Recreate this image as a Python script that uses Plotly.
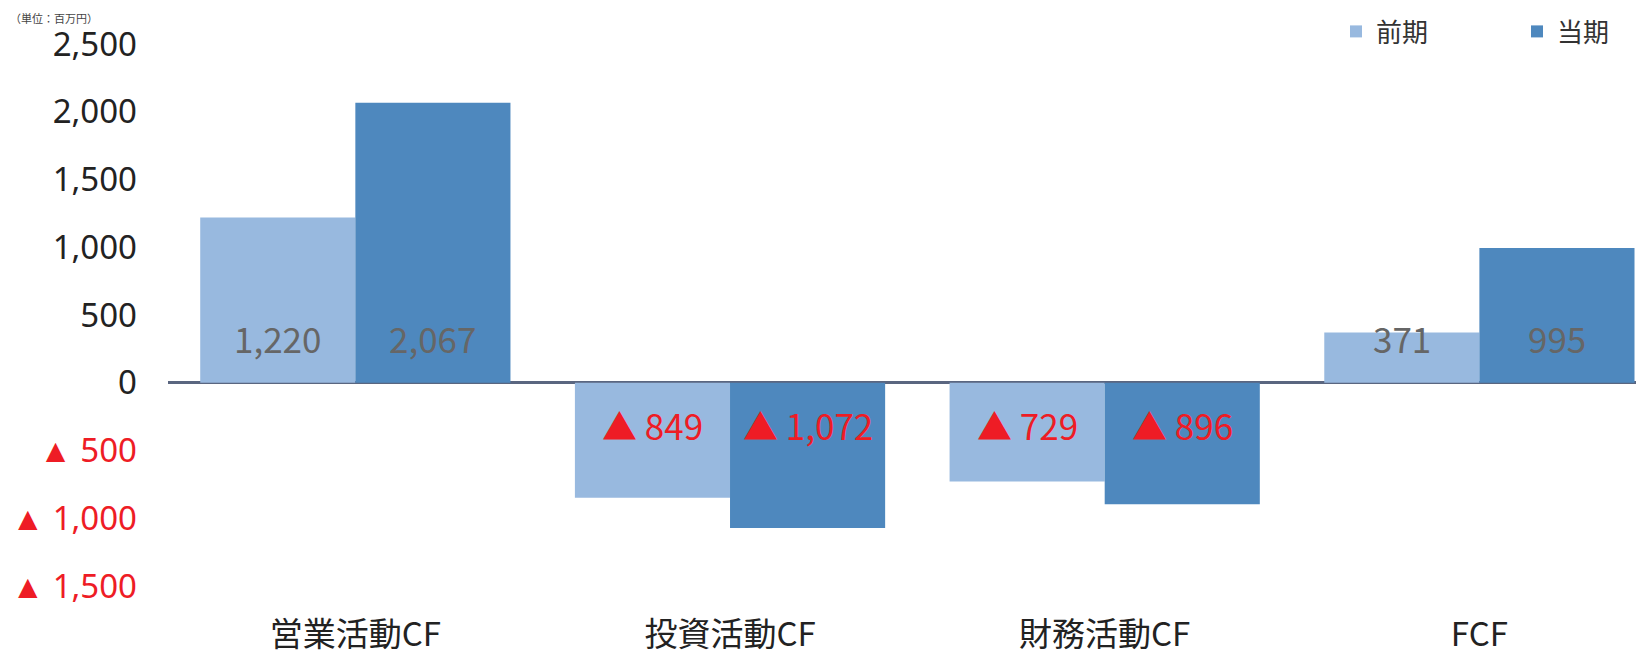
import plotly.graph_objects as go

categories = ["営業活動CF", "投資活動CF", "財務活動CF", "FCF"]
prev_values = [1220, -849, -729, 371]
curr_values = [2067, -1072, -896, 995]
series_names = ["前期", "当期"]
y_tickvals = [-1500, -1000, -500, 0, 500, 1000, 1500, 2000, 2500]
unit_label = "（単位：百万円）"

LIGHT = "#98b9df"
DARK = "#4e88be"
RED = "#ee1c25"
GRAY = "#666666"
BARGAP = 0.172

# page has an 8px body margin, so the figure is drawn 8px smaller
W, H = 1642, 649
ML, MR, MT, MB = 160, 14, 36, 71
PW, PH = W - ML - MR, H - MT - MB

def px_to_paper(xp, yp):
    return (xp - ML) / PW, (H - MB - yp) / PH

def fmt(v):
    if v < 0:
        return "▲ " + f"{-v:,}"
    return f"{v:,}"

def tick_text(v):
    if v < 0:
        return f'<span style="color:{RED}">▲ {-v:,}</span>'
    return f"{v:,}"

fig = go.Figure()
fig.add_trace(go.Bar(x=categories, y=prev_values, name=series_names[0],
                     marker=dict(color=LIGHT, line=dict(width=0))))
fig.add_trace(go.Bar(x=categories, y=curr_values, name=series_names[1],
                     marker=dict(color=DARK, line=dict(width=0))))

half = (1 - BARGAP) / 4
annotations = []
for i, (a, b) in enumerate(zip(prev_values, curr_values)):
    for v, dx in ((a, -half), (b, half)):
        annotations.append(dict(
            x=i + dx, y=0, xref="x", yref="y", text=fmt(v), showarrow=False,
            yshift=45 if v >= 0 else -42, xanchor="center", yanchor="middle",
            font=dict(family="Noto Sans CJK JP", size=35,
                      color=GRAY if v >= 0 else RED)))
ux, uy = px_to_paper(0, 0)
annotations.append(dict(
    x=ux, y=uy, xref="paper", yref="paper", text=unit_label,
    showarrow=False, xanchor="left", yanchor="top",
    font=dict(family="Noto Sans CJK JP", size=11, color="#444444")))

fig.update_layout(
    width=W, height=H,
    margin=dict(l=ML, r=MR, t=MT, b=MB, autoexpand=False),
    paper_bgcolor="white", plot_bgcolor="white",
    barmode="group", bargap=BARGAP, bargroupgap=0,
    showlegend=True,
    legend=dict(orientation="h", x=1328 / W, xref="container", xanchor="left",
                y=1, yref="container", yanchor="top",
                entrywidth=136, font=dict(family="Noto Sans CJK JP", size=26, color="#333333"),
                itemclick=False, traceorder="normal"),
    xaxis=dict(range=[-0.5, 3.418], showline=False, showgrid=False, ticks="",
               tickfont=dict(family="Noto Sans CJK JP", size=33, color="#222222"),
               ticklabelstandoff=26),
    yaxis=dict(range=[-1500, 2500], tickvals=y_tickvals,
               ticktext=[tick_text(v) for v in y_tickvals],
               showgrid=False, showline=False, ticks="",
               zeroline=True, zerolinecolor="#5a6680", zerolinewidth=2.5,
               tickfont=dict(family="Noto Sans", size=33, color="#222222"),
               ticklabelstandoff=30),
    annotations=annotations,
)
fig.write_html("out.html")
